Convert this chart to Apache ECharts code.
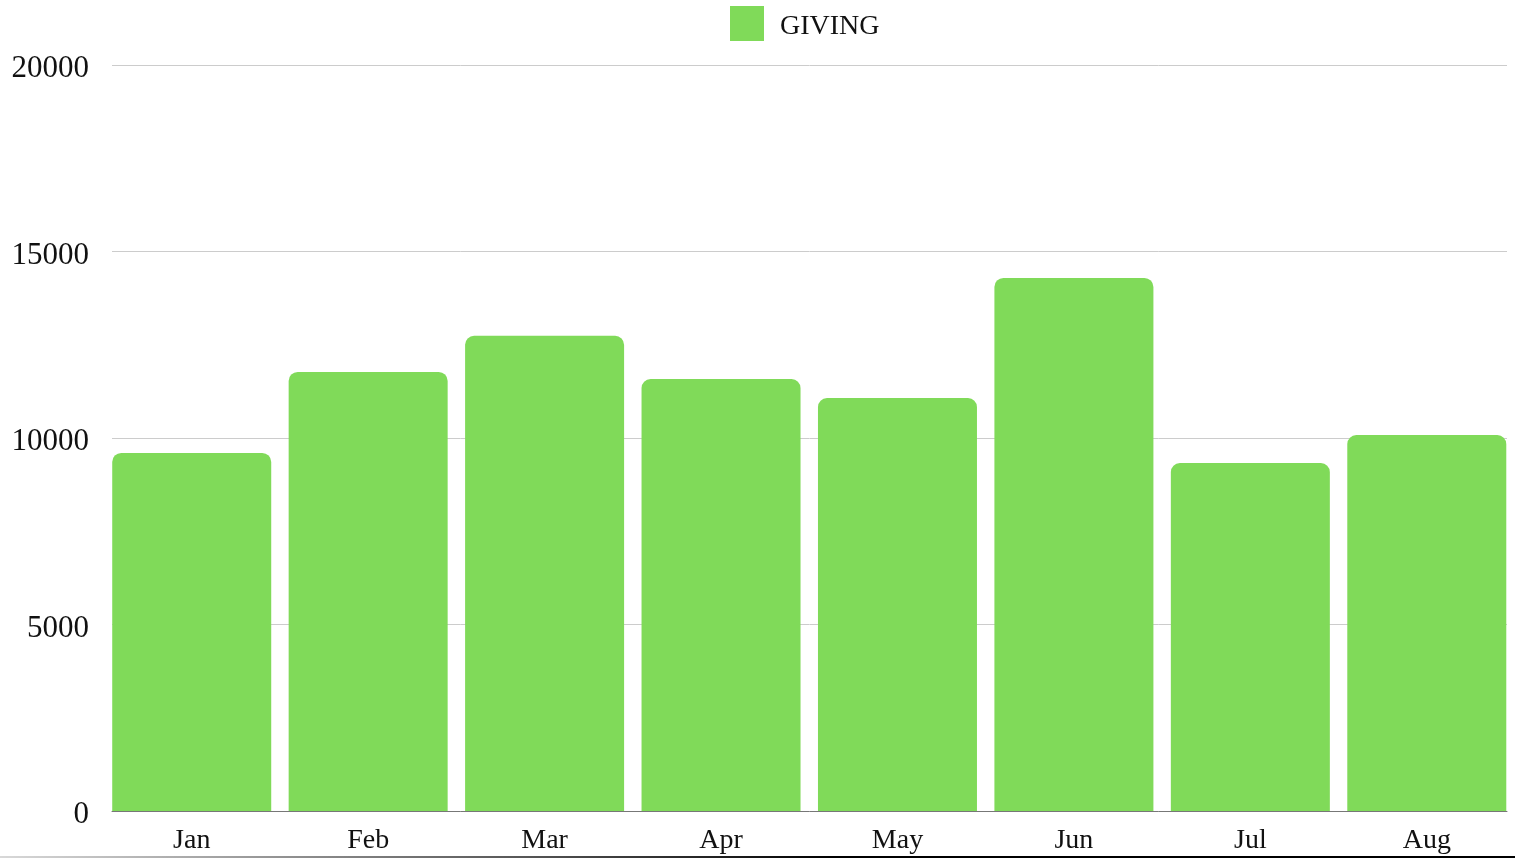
<!DOCTYPE html>
<html>
<head>
<meta charset="utf-8">
<script src="https://cdn.jsdelivr.net/npm/echarts@6/dist/echarts.min.js"></script>
<style>
  html, body { margin: 0; padding: 0; background: #fff; }
  #wrap { position: relative; width: 1515px; height: 858px; overflow: hidden; }
  #bottomLine {
    position: absolute; left: 0; right: 0; bottom: 0; height: 2px;
    background: linear-gradient(to right, #d8d8d8 0%, #555 35%, #000 55%, #000 100%);
  }
  #chart { position: absolute; left: 0; top: 0; width: 1515px; height: 858px; }
</style>
</head>
<body>
<div id="wrap">
  <div id="bottomLine"></div>
  <div id="chart"></div>
</div>
<script>
// chart data
const months = ['Jan', 'Feb', 'Mar', 'Apr', 'May', 'Jun', 'Jul', 'Aug']
const giving = [9600, 11770, 12740, 11580, 11070, 14290, 9330, 10080]
const seriesName = 'GIVING'

const chart = echarts.init(document.getElementById('chart'))
const font = 'Liberation Serif'

const option = {
  animation: false,
  textStyle: { fontFamily: font },
  legend: {
    top: 1,
    left: 725,
    itemWidth: 34,
    itemHeight: 35,
    icon: 'rect',
    formatter: name => '{t|' + name + '}',
    textStyle: {
      fontFamily: font, fontSize: 28, color: '#111', padding: [0, 0, 0, 11],
      rich: { t: { fontFamily: font, fontSize: 28, color: '#111', padding: [6, 0, 0, 0] } }
    },
    data: [seriesName]
  },
  grid: [
    // bars grid (category spacing)
    { left: 103.5, right: 0, top: 65, bottom: 47 },
    // gridlines / y labels
    { left: 112, right: 8, top: 65, bottom: 47 }
  ],
  xAxis: [
    {
      type: 'category',
      gridIndex: 0,
      data: months,
      axisLine: { show: false },
      axisTick: { show: false },
      axisLabel: { fontFamily: font, fontSize: 28, color: '#111', margin: 16 }
    },
    {
      type: 'value',
      gridIndex: 1,
      min: 0,
      max: 1,
      axisLine: { show: true, onZero: false, lineStyle: { color: '#777', width: 1 } },
      axisTick: { show: false },
      axisLabel: { show: false },
      splitLine: { show: false }
    }
  ],
  yAxis: [
    {
      type: 'value',
      gridIndex: 0,
      min: 0,
      max: 20000,
      show: false
    },
    {
      type: 'value',
      gridIndex: 1,
      min: 0,
      max: 20000,
      interval: 5000,
      axisLine: { show: false },
      axisTick: { show: false },
      axisLabel: {
        fontFamily: font, fontSize: 31, color: '#111', margin: 23,
        verticalAlign: 'top',
        lineHeight: 8,
        formatter: v => String(v)
      },
      splitLine: { lineStyle: { color: '#cccccc', width: 1 } }
    }
  ],
  series: [
    {
      name: seriesName,
      type: 'bar',
      xAxisIndex: 0,
      yAxisIndex: 0,
      barWidth: 159,
      data: giving,
      itemStyle: { color: '#80da59', borderRadius: [9, 9, 0, 0] }
    }
  ]
}
chart.setOption(option)
</script>
</body>
</html>
